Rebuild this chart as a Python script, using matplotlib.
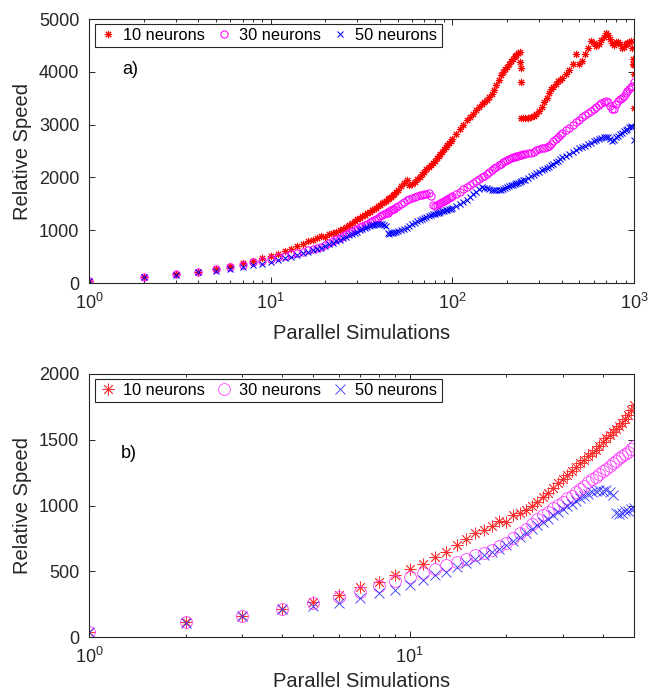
import matplotlib
matplotlib.use("Agg")
import matplotlib.pyplot as plt
import numpy as np
from matplotlib.ticker import LogLocator, NullFormatter, FixedLocator

plt.rcParams['font.family'] = ['Liberation Sans', 'DejaVu Sans']
plt.rcParams['mathtext.fontset'] = 'custom'
plt.rcParams['mathtext.rm'] = 'Liberation Sans'
plt.rcParams['mathtext.it'] = 'Liberation Sans:italic'
plt.rcParams['mathtext.bf'] = 'Liberation Sans:bold'

# ---- data ----
n_sims = (list(range(1, 51)) + list(range(52, 101, 2)) + list(range(105, 251, 5))
          + list(range(260, 401, 10)) + list(range(420, 1001, 20)))

speed_10 = [40, 111, 163, 215, 268, 322, 378, 420, 475, 518,
            557, 608, 646, 700, 743, 790, 815, 845, 885, 878,
            925, 945, 965, 995, 1025, 1065, 1095, 1130, 1170, 1205,
            1230, 1260, 1295, 1320, 1345, 1375, 1400, 1425, 1455, 1485,
            1510, 1535, 1558, 1583, 1608, 1630, 1660, 1690, 1725, 1765,
            1840, 1900, 1960, 1860, 1880, 1920, 1970, 2010, 2060, 2110,
            2150, 2190, 2230, 2270, 2310, 2360, 2400, 2440, 2480, 2530,
            2580, 2620, 2650, 2680, 2720,
            2820, 2910, 3000, 3080, 3140, 3210, 3280, 3340, 3390, 3430,
            3470, 3530, 3580, 3650, 3750, 3850, 3930, 4000, 4050, 4100,
            4150, 4200, 4250, 4290, 4320, 4350, 4380, 3130, 3120, 3130,
            3120, 3150, 3170, 3200, 3250, 3330, 3430, 3510, 3600, 3670,
            3720, 3770, 3820, 3850, 3880,
            3950, 4030, 4150, 4330, 4150, 4200, 4330, 4450, 4580, 4540,
            4480, 4520, 4600, 4660, 4740, 4700, 4620, 4540, 4500, 4560,
            4570, 4530, 4460, 4470, 4520, 4550, 4570, 4590, 4450, 4130]
# isolated points of the 10-neuron series
n_sims_10_extra = [237, 238, 239, 985, 990, 995, 1000]
speed_10_extra = [4190, 4070, 3810, 4250, 4150, 3960, 3310]

speed_30 = [40, 111, 163, 214, 262, 305, 345, 390, 425, 460,
            490, 520, 545, 570, 595, 620, 640, 660, 690, 715,
            750, 790, 825, 860, 895, 925, 950, 980, 1005, 1030,
            1055, 1075, 1100, 1125, 1150, 1175, 1200, 1220, 1240, 1260,
            1280, 1300, 1320, 1335, 1360, 1375, 1395, 1410, 1430, 1455,
            1500, 1540, 1570, 1590, 1610, 1630, 1645, 1660, 1670, 1680,
            1690, 1700, 1650, 1470, 1450, 1470, 1490, 1510, 1530, 1550,
            1570, 1590, 1610, 1625, 1640,
            1680, 1730, 1780, 1820, 1860, 1900, 1940, 1970, 2000, 2030,
            2060, 2100, 2140, 2170, 2200, 2230, 2260, 2290, 2310, 2330,
            2350, 2370, 2380, 2390, 2400, 2410, 2420, 2430, 2440, 2450,
            2460, 2470, 2490, 2510, 2530, 2550, 2560, 2570, 2590, 2640,
            2690, 2730, 2770, 2800, 2840,
            2890, 2940, 2990, 3040, 3090, 3140, 3180, 3220, 3260, 3300,
            3340, 3380, 3400, 3420, 3440, 3420, 3350, 3290, 3300, 3390,
            3440, 3480, 3510, 3550, 3590, 3630, 3670, 3710, 3740, 3800]

speed_50 = [40, 108, 160, 210, 236, 262, 300, 332, 360, 398,
            435, 470, 495, 530, 563, 595, 620, 645, 670, 700,
            730, 760, 790, 820, 850, 875, 900, 925, 950, 975,
            995, 1015, 1035, 1055, 1075, 1090, 1100, 1110, 1115, 1110,
            1115, 1105, 1080, 940, 935, 945, 955, 960, 970, 980,
            1000, 1020, 1050, 1080, 1110, 1140, 1170, 1190, 1210, 1230,
            1250, 1270, 1290, 1305, 1315, 1325, 1335, 1345, 1355, 1365,
            1375, 1385, 1395, 1405, 1420,
            1460, 1500, 1540, 1580, 1630, 1680, 1730, 1780, 1810, 1800,
            1790, 1780, 1770, 1765, 1760, 1760, 1765, 1775, 1790, 1810,
            1830, 1850, 1865, 1880, 1890, 1900, 1915, 1930, 1945, 1960,
            1990, 2020, 2050, 2080, 2110, 2140, 2160, 2180, 2200, 2230,
            2260, 2290, 2320, 2350, 2380,
            2400, 2440, 2480, 2520, 2550, 2580, 2600, 2630, 2660, 2690,
            2710, 2730, 2750, 2760, 2770, 2760, 2720, 2680, 2700, 2760,
            2790, 2820, 2840, 2870, 2890, 2920, 2950, 2980, 2960, 2700]

labels = ['10 neurons', '30 neurons', '50 neurons']
panel_tags = ['a)', 'b)']

# ---- figure ----
W, H = 649, 695
fig = plt.figure(figsize=(W / 100, H / 100), dpi=100)
ax1 = fig.add_axes([89 / W, 1 - 283 / H, 545 / W, 264 / H])
ax2 = fig.add_axes([89 / W, 1 - 637 / H, 545 / W, 263 / H])

axc = '#262626'
star = (8, 2, 0)

x = np.array(n_sims)
s10, s30, s50 = np.array(speed_10), np.array(speed_30), np.array(speed_50)

def style_axes(ax, xpad):
    ax.set_xscale('log')
    for sp in ax.spines.values():
        sp.set_color(axc)
        sp.set_linewidth(0.8)
    ax.tick_params(which='both', direction='in', top=True, right=True,
                   colors=axc, labelsize=13, width=0.7)
    ax.tick_params(which='major', length=4.5, pad=7)
    ax.tick_params(which='minor', length=2.5)
    ax.set_ylabel('Relative Speed', fontsize=14.5, color=axc, labelpad=5)
    ax.set_xlabel('Parallel Simulations', fontsize=14.5, color=axc, labelpad=xpad)

# top panel
ms1, mew1 = 5.2, 0.75
ax1.plot(x, s10, linestyle='none', marker=star, ms=ms1, mew=mew1, color='red', label=labels[0])
ax1.plot(n_sims_10_extra, speed_10_extra, linestyle='none', marker=star, ms=ms1, mew=mew1, color='red')
ax1.plot(x, s30, linestyle='none', marker='o', ms=ms1, mew=mew1, mfc='none', mec='#ff00ff', label=labels[1])
ax1.plot(x, s50, linestyle='none', marker='x', ms=ms1 * 0.85, mew=mew1, color='blue', label=labels[2])
style_axes(ax1, 8)
ax1.set_xlim(1, 1000)
ax1.set_ylim(0, 5000)
ax1.set_yticks([0, 1000, 2000, 3000, 4000, 5000])
ax1.xaxis.set_major_locator(LogLocator(base=10, numticks=10))
ax1.xaxis.set_minor_locator(LogLocator(base=10, subs=np.arange(2, 10), numticks=20))
ax1.xaxis.set_minor_formatter(NullFormatter())
ax1.text(0.061, 0.807, panel_tags[0], transform=ax1.transAxes, fontsize=13,
         va='center', ha='left', color='black')

# bottom panel
mask = x <= 50
ms2, mew2 = 8.5, 0.6
ax2.plot(x[mask], s10[mask], linestyle='none', marker=star, ms=ms2, mew=mew2, color='#ff3030', label=labels[0])
ax2.plot(x[mask], s30[mask], linestyle='none', marker='o', ms=ms2, mew=mew2, mfc='none', mec='#ff40ff', label=labels[1])
ax2.plot(x[mask], s50[mask], linestyle='none', marker='x', ms=ms2 * 0.85, mew=mew2, color='#3030ff', label=labels[2])
style_axes(ax2, 4)
ax2.set_xlim(1, 50)
ax2.set_ylim(0, 2000)
ax2.set_yticks([0, 500, 1000, 1500, 2000])
ax2.xaxis.set_major_locator(FixedLocator([1, 10]))
ax2.set_xticklabels([r'$10^{0}$', r'$10^{1}$'])
ax2.xaxis.set_minor_locator(FixedLocator([2, 3, 4, 5, 6, 7, 8, 9, 20, 30, 40]))
ax2.xaxis.set_minor_formatter(NullFormatter())
ax2.text(0.059, 0.698, panel_tags[1], transform=ax2.transAxes, fontsize=13,
         va='center', ha='left', color='black')

for ax in (ax1, ax2):
    leg = ax.legend(loc='upper left', bbox_to_anchor=(6 / 545, 1 - 5 / 264), borderaxespad=0,
                    ncol=3, fontsize=11.8, frameon=True, fancybox=False, framealpha=1,
                    edgecolor=axc, borderpad=0.25, handlelength=1.05, handletextpad=0.43,
                    columnspacing=0.6, numpoints=1)
    leg.get_frame().set_linewidth(0.8)
    for t in leg.get_texts():
        t.set_color('black')

fig.savefig('out.png', dpi=100)
